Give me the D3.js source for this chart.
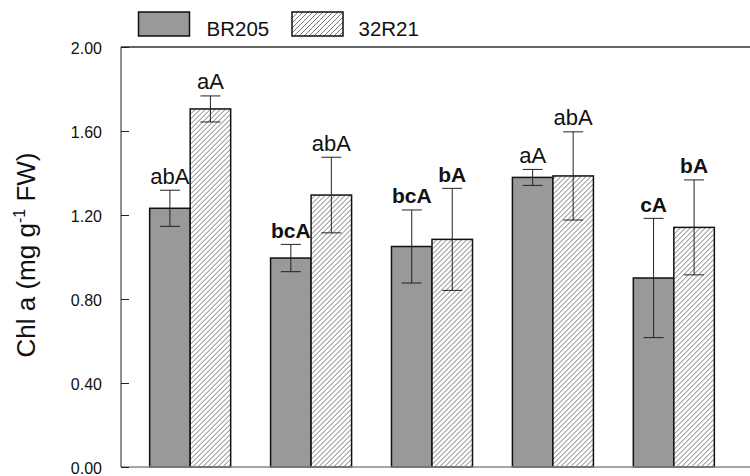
<!DOCTYPE html>
<html>
<head>
<meta charset="utf-8">
<script src="https://cdn.jsdelivr.net/npm/d3@7"></script>
<style>
  html, body { margin: 0; padding: 0; background: #fff; }
  svg { display: block; font-family: "Liberation Sans", Arial, sans-serif; }
</style>
</head>
<body>
<svg id="chart" width="750" height="476"></svg>
<script>
// Chlorophyll a content of two genotypes across five treatments
const categories = ["T1", "T2", "T3", "T4", "T5"];
const seriesNames = ["BR205", "32R21"];
const br205Values = [1.232, 0.995, 1.050, 1.379, 0.900];
const br205Errors = [0.086, 0.065, 0.174, 0.038, 0.284];
const r21Values   = [1.705, 1.295, 1.084, 1.386, 1.141];
const r21Errors   = [0.062, 0.180, 0.243, 0.210, 0.226];
const br205Labels = ["abA", "bcA", "bcA", "aA", "cA"];
const r21Labels   = ["aA", "abA", "bA", "abA", "bA"];
const yTicks = [0, 0.4, 0.8, 1.2, 1.6, 2.0];

const seriesValues = [br205Values, r21Values];
const seriesErrors = [br205Errors, r21Errors];
const seriesLabels = [br205Labels, r21Labels];

// letter-group labels drawn in bold
const boldLabels = [[false, true, true, false, true], [false, false, true, false, true]];

const svg = d3.select("#chart");
const plotLeft = 121, plotTop = 47, plotBottom = 467, plotRight = 750;

const y = d3.scaleLinear().domain([0, 2]).range([plotBottom, plotTop]);
const x = d3.scaleBand().domain(categories).range([plotLeft, 743])
  .paddingInner(0.33).paddingOuter(0.237);
const xs = d3.scaleBand().domain(seriesNames).range([0, x.bandwidth()]);

// hatch pattern for the second series
const defs = svg.append("defs");
const pat = defs.append("pattern").attr("id", "hatch")
  .attr("patternUnits", "userSpaceOnUse").attr("width", 5).attr("height", 5);
pat.append("rect").attr("width", 5).attr("height", 5).attr("fill", "#fff");
pat.append("path").attr("d", "M0,5 L5,0 M-1,1 L1,-1 M4,6 L6,4")
  .attr("stroke", "#555").attr("stroke-width", 0.8);

const fills = ["#999999", "url(#hatch)"];

// frame line along the top
svg.append("line").attr("x1", plotLeft).attr("x2", plotRight).attr("y1", plotTop).attr("y2", plotTop)
  .attr("stroke", "#333").attr("stroke-width", 1.5);

// bars
const groups = svg.append("g").selectAll("g").data(categories).join("g")
  .attr("transform", d => `translate(${x(d)},0)`);

seriesNames.forEach((s, si) => {
  groups.append("rect")
    .attr("x", xs(s))
    .attr("width", xs.bandwidth())
    .attr("y", (d, i) => y(seriesValues[si][i]))
    .attr("height", (d, i) => y(0) - y(seriesValues[si][i]))
    .attr("fill", fills[si])
    .attr("stroke", "#111").attr("stroke-width", 1.5);
});

// error bars and letter labels
seriesNames.forEach((s, si) => {
  const cx = xs(s) + xs.bandwidth() / 2;
  const hi = (i) => seriesValues[si][i] + seriesErrors[si][i];
  const lo = (i) => seriesValues[si][i] - seriesErrors[si][i];
  groups.append("line").attr("x1", cx).attr("x2", cx)
    .attr("y1", (d, i) => y(hi(i))).attr("y2", (d, i) => y(lo(i)))
    .attr("stroke", "#222").attr("stroke-width", 1);
  groups.append("line").attr("x1", cx - 10).attr("x2", cx + 10)
    .attr("y1", (d, i) => y(hi(i))).attr("y2", (d, i) => y(hi(i)))
    .attr("stroke", "#222").attr("stroke-width", 1);
  groups.append("line").attr("x1", cx - 10).attr("x2", cx + 10)
    .attr("y1", (d, i) => y(lo(i))).attr("y2", (d, i) => y(lo(i)))
    .attr("stroke", "#222").attr("stroke-width", 1);
  groups.append("text")
    .attr("x", cx)
    .attr("y", (d, i) => y(hi(i)) - 6.5)
    .attr("text-anchor", "middle")
    .attr("font-size", (d, i) => boldLabels[si][i] ? 21 : 22)
    .attr("font-weight", (d, i) => boldLabels[si][i] ? "bold" : "normal")
    .attr("fill", "#111")
    .text((d, i) => seriesLabels[si][i]);
});

// bottom axis line
svg.append("line").attr("x1", plotLeft).attr("x2", plotRight).attr("y1", plotBottom).attr("y2", plotBottom)
  .attr("stroke", "#888").attr("stroke-width", 1.5);

// y axis with inward ticks
const yAxis = svg.append("g").attr("transform", `translate(${plotLeft},0)`)
  .call(d3.axisRight(y).tickValues(yTicks).tickSize(8).tickFormat(d3.format(".2f")));
yAxis.attr("font-size", 16).attr("font-family", "'Liberation Sans', Arial, sans-serif");
yAxis.select(".domain").attr("stroke", "#222").attr("d", `M0,${plotTop}V${plotBottom}`);
yAxis.selectAll(".tick line").attr("stroke", "#222");
yAxis.selectAll(".tick text")
  .attr("x", -19).attr("dy", 6.5).attr("text-anchor", "end")
  .attr("fill", "#111");

// y axis title
const title = svg.append("text")
  .attr("transform", "translate(35,255) rotate(-90)")
  .attr("text-anchor", "middle")
  .attr("font-size", 26).attr("fill", "#111");
title.append("tspan").text("Chl a (mg g");
title.append("tspan").attr("font-size", 16).attr("dy", -10).text("-1");
title.append("tspan").attr("dy", 10).text(" FW)");

// legend
const legend = svg.append("g");
const legendX = [138.5, 292];
const legendTextX = [206.5, 358.5];
seriesNames.forEach((s, si) => {
  legend.append("rect").attr("x", legendX[si]).attr("y", 12)
    .attr("width", 51).attr("height", 24)
    .attr("fill", fills[si]).attr("stroke", "#111").attr("stroke-width", 1.5);
  legend.append("text").attr("x", legendTextX[si]).attr("y", 36)
    .attr("font-size", 20.5).attr("fill", "#111").text(s);
});
</script>
</body>
</html>
